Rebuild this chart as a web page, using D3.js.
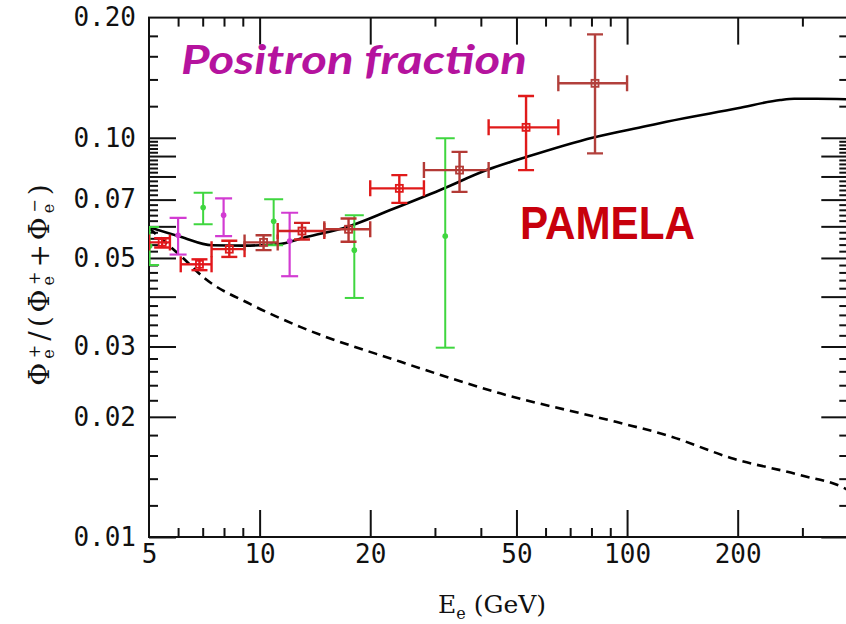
<!DOCTYPE html>
<html>
<head>
<meta charset="utf-8">
<title>Positron fraction</title>
<style>
    body { margin: 0; background: #fff; }
    svg { display: block; }
    .tick text { font-family: "DejaVu Sans Mono", monospace; font-size: 26px; fill: #111; }
    .tick line { stroke: #111; stroke-width: 2; }
</style>
</head>
<body>
<svg width="846" height="624"></svg>
<script src="https://d3js.org/d3.v7.min.js"></script>
<script>

    // PAMELA points: bin edges, bin centre, fraction and error range
    var pamelaLo  = [5.0, 6.1, 7.4, 9.1, 11.2, 15.0, 20, 28, 42, 65];
    var pamelaHi  = [5.7, 7.4, 9.1, 11.2, 15.0, 20.0, 28, 42, 65, 100];
    var pamelaE   = [5.43, 6.86, 8.27, 10.25, 13.04, 17.46, 24.0, 35.0, 53.1, 81.8];
    var pamelaF   = [0.0547, 0.0482, 0.0526, 0.0547, 0.0584, 0.0590, 0.0747, 0.0830, 0.1062, 0.1369];
    var pamelaMin = [0.0531, 0.0466, 0.0503, 0.0523, 0.0556, 0.0549, 0.0687, 0.0732, 0.0830, 0.0914];
    var pamelaMax = [0.0560, 0.0496, 0.0552, 0.0570, 0.0612, 0.0628, 0.0806, 0.0922, 0.1272, 0.1816];

    // older measurements (green and magenta)
    var greenE   = [5.02, 7.02, 10.92, 18.1, 32.0];
    var greenF   = [0.0536, 0.0669, 0.0618, 0.0523, 0.0567];
    var greenMin = [0.0480, 0.0607, 0.0538, 0.0397, 0.0298];
    var greenMax = [0.0598, 0.0728, 0.0701, 0.0640, 0.0997];

    var magentaE   = [6.0, 7.98, 12.07];
    var magentaF   = [0.0570, 0.0640, 0.0551];
    var magentaMin = [0.0510, 0.0567, 0.0450];
    var magentaMax = [0.0630, 0.0705, 0.0649];

    // model curves
    var solidE = [5.0, 6.09, 7.42, 9.05, 11.2, 13.46, 17.29, 22.67, 31.0, 41.5, 53.4, 81.0, 113, 128, 200, 261, 285, 328, 400];
    var solidF = [0.0597, 0.0565, 0.0538, 0.0537, 0.0541, 0.0565, 0.0598, 0.0659, 0.0740, 0.0830, 0.0896, 0.1002, 0.1070, 0.1097, 0.1185, 0.1243, 0.1252, 0.1252, 0.1248];
    var dashE = [5.0, 6.14, 7.10, 9.44, 12.9, 24.1, 45.2, 93.8, 128, 195, 295, 394, 400];
    var dashF = [0.0594, 0.0503, 0.0444, 0.0383, 0.0336, 0.0275, 0.0229, 0.0194, 0.0180, 0.0157, 0.0143, 0.0132, 0.0131];

    // axes
    var xLabels = [5, 10, 20, 50, 100, 200];
    var xMajor = [10, 20, 50, 100, 200];
    var xMinor = [6, 7, 8, 9, 30, 40, 60, 70, 80, 90, 300];
    var yLabels = [0.01, 0.02, 0.03, 0.05, 0.07, 0.10, 0.20];

    var yMajor = [], yMinor = [];
    for (var k = 1; k <= 10; k++) yMajor.push(k / 100);
    for (var k = 11; k < 100; k++) { if (k % 10 != 0 && k % 2 == 0) yMinor.push(k / 1000); }
    yMinor = yMinor.concat([0.12, 0.14, 0.16, 0.18]);

    var redTones = ["#e3161b", "#e3161b", "#dd1c1c", "#b33a36", "#d02222", "#b83632", "#e01a1a", "#b33a36", "#e01a1a", "#b2403c"];

    var svg = d3.select("svg"),
        pl = 149, pr = 848.3, pt = 17.6, pb = 537;

    var x = d3.scaleLog().domain([5, 400]).range([pl, pr]);
    var y = d3.scaleLog().domain([0.01, 0.2]).range([pb, pt]);

    svg.append("clipPath").attr("id", "plot")
        .append("rect").attr("x", pl).attr("y", pt).attr("width", pr - pl).attr("height", pb - pt);

    // ticks, all pointing into the frame
    function axisGroup(axis, tx, ty) {
        var g = svg.append("g").attr("transform", "translate(" + tx + "," + ty + ")").call(axis);
        g.select(".domain").remove();
        return g;
    }
    var noText = function () { return ""; };

    axisGroup(d3.axisBottom(x).tickValues(xMajor).tickSize(-27).tickFormat(noText), 0, pb);
    axisGroup(d3.axisBottom(x).tickValues(xMinor).tickSize(-9).tickFormat(noText), 0, pb);
    axisGroup(d3.axisBottom(x).tickValues(xLabels).tickSize(0).tickPadding(8).tickFormat(d3.format("d")), 0, pb);
    axisGroup(d3.axisTop(x).tickValues(xMajor).tickSize(-27).tickFormat(noText), 0, pt);
    axisGroup(d3.axisTop(x).tickValues(xMinor).tickSize(-9).tickFormat(noText), 0, pt);

    axisGroup(d3.axisLeft(y).tickValues(yMajor).tickSize(-27).tickFormat(noText), pl, 0);
    axisGroup(d3.axisLeft(y).tickValues(yMinor).tickSize(-9).tickFormat(noText), pl, 0);
    axisGroup(d3.axisLeft(y).tickValues(yLabels).tickSize(0).tickPadding(13).tickFormat(d3.format(".2f")), pl, 0);
    axisGroup(d3.axisRight(y).tickValues(yMajor).tickSize(-27).tickFormat(noText), pr, 0);
    axisGroup(d3.axisRight(y).tickValues(yMinor).tickSize(-9).tickFormat(noText), pr, 0);

    svg.append("rect")
        .attr("x", pl).attr("y", pt).attr("width", pr - pl).attr("height", pb - pt)
        .attr("fill", "none").attr("stroke", "#111").attr("stroke-width", 2);

    var plot = svg.append("g").attr("clip-path", "url(#plot)");

    // curves
    var line = d3.line()
        .x(function (d) { return x(d[0]); })
        .y(function (d) { return y(d[1]); })
        .curve(d3.curveMonotoneX);

    plot.append("path")
        .datum(d3.zip(solidE, solidF))
        .attr("d", line)
        .attr("fill", "none").attr("stroke", "#000").attr("stroke-width", 2.6);

    plot.append("path")
        .datum(d3.zip(dashE, dashF))
        .attr("d", line)
        .attr("fill", "none").attr("stroke", "#000").attr("stroke-width", 2.6)
        .attr("stroke-dasharray", "9,6");

    // vertical-only error bars with a dot
    function dots(es, fs, lo, hi, colour, capW, width) {
        es.forEach(function (e, i) {
            var cx = x(e), g = plot.append("g")
                .attr("stroke", colour).attr("stroke-width", width).attr("fill", colour);
            g.append("line").attr("x1", cx).attr("x2", cx).attr("y1", y(lo[i])).attr("y2", y(hi[i]));
            [lo[i], hi[i]].forEach(function (v) {
                g.append("line").attr("x1", cx - capW).attr("x2", cx + capW).attr("y1", y(v)).attr("y2", y(v));
            });
            g.append("circle").attr("cx", cx).attr("cy", y(fs[i])).attr("r", 2.8).attr("stroke", "none");
        });
    }
    dots(greenE, greenF, greenMin, greenMax, "#3fd63f", 9.5, 2);
    dots(magentaE, magentaF, magentaMin, magentaMax, "#d23cd2", 8.5, 2.2);

    // PAMELA crosses with caps and open squares
    pamelaE.forEach(function (e, i) {
        var cx = x(e), cy = y(pamelaF[i]), c = redTones[i];
        var g = plot.append("g").attr("stroke", c).attr("stroke-width", 2.4).attr("fill", "none");
        g.append("line").attr("x1", x(pamelaLo[i])).attr("x2", x(pamelaHi[i])).attr("y1", cy).attr("y2", cy);
        g.append("line").attr("x1", cx).attr("x2", cx).attr("y1", y(pamelaMin[i])).attr("y2", y(pamelaMax[i]));
        [pamelaLo[i], pamelaHi[i]].forEach(function (v) {
            g.append("line").attr("x1", x(v)).attr("x2", x(v)).attr("y1", cy - 8).attr("y2", cy + 8);
        });
        [pamelaMin[i], pamelaMax[i]].forEach(function (v) {
            g.append("line").attr("x1", cx - 8).attr("x2", cx + 8).attr("y1", y(v)).attr("y2", y(v));
        });
        g.append("rect").attr("x", cx - 3.5).attr("y", cy - 3.5).attr("width", 7).attr("height", 7)
            .attr("stroke-width", 1.8);
    });

    // texts
    svg.append("text")
        .attr("x", 181).attr("y", 74)
        .attr("textLength", 346).attr("lengthAdjust", "spacingAndGlyphs")
        .style("font-family", "Lato, 'DejaVu Sans', sans-serif")
        .style("font-weight", "bold").style("font-style", "italic")
        .style("font-size", "41px").style("fill", "#b5139e")
        .text("Positron fraction");

    svg.append("text")
        .attr("x", 520).attr("y", 238.5)
        .attr("textLength", 175).attr("lengthAdjust", "spacingAndGlyphs")
        .style("font-family", "'Liberation Sans', Arial, sans-serif")
        .style("font-weight", "bold")
        .style("font-size", "46px").style("fill", "#c8000c")
        .text("PAMELA");

    var xt = svg.append("text")
        .attr("x", 492).attr("y", 613)
        .attr("text-anchor", "middle")
        .style("font-family", "'DejaVu Serif', serif")
        .style("font-size", "25px").style("fill", "#111");
    xt.append("tspan").text("E");
    xt.append("tspan").attr("dy", 6).style("font-size", "16px").text("e");
    xt.append("tspan").attr("dy", -6).text(" (GeV)");

    // rotated y label; each Φ carries a subscript e and a stacked superscript
    var yt = svg.append("text")
        .attr("transform", "translate(49,283) rotate(-90)")
        .attr("text-anchor", "middle")
        .style("font-family", "'DejaVu Serif', serif")
        .style("letter-spacing", "4px")
        .style("font-size", "28px").style("fill", "#111");
    var back = 0;
    function part(s) { yt.append("tspan").attr("dy", back).text(s); back = 0; }
    function phi(sign) {
        part("Φ");
        yt.append("tspan").attr("dy", 5).style("font-size", "16px").text("e");
        yt.append("tspan").attr("dx", -13).attr("dy", -14).style("font-size", "16px").text(sign);
        back = 9;
    }
    phi("+");
    part("/(");
    phi("+");
    part("+");
    phi("−");
    part(")");

</script>
</body>
</html>
